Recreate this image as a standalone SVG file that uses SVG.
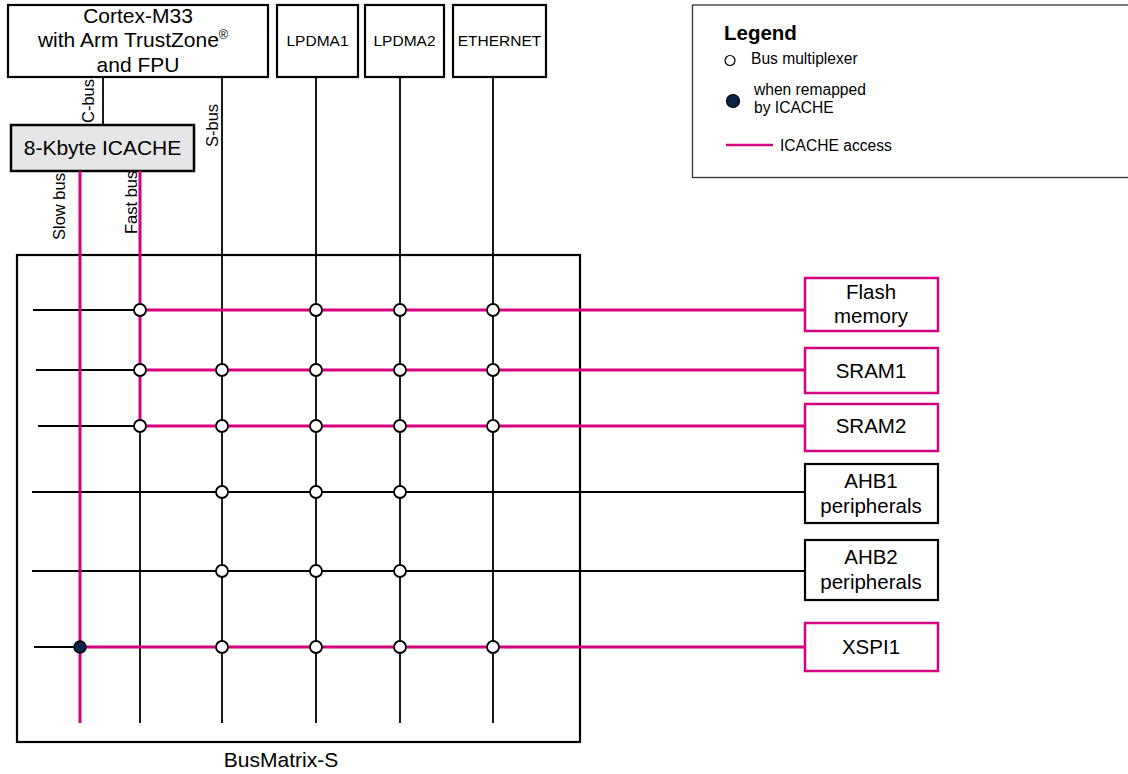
<svg xmlns="http://www.w3.org/2000/svg" width="1128" height="774" viewBox="0 0 1128 774">
  <style>
    text { font-family: "Liberation Sans", Arial, sans-serif; fill: #000; }
    .box { fill: #fff; stroke: #000; stroke-width: 2.2; }
    .mbox { fill: #fff; stroke: #d5007f; stroke-width: 2.5; }
    .cache { fill: #e6e6e6; stroke: #000; stroke-width: 2.5; }
    .blk { stroke: #000; stroke-width: 1.8; fill: none; }
    .mag { stroke: #d5007f; stroke-width: 3; fill: none; }
    .mux { fill: #fff; stroke: #000; stroke-width: 1.8; }
    .remap { fill: #0b2447; stroke: #000; stroke-width: 1.5; }
    .big { font-size: 20.5px; text-anchor: middle; }
    .cpu { font-size: 21px; text-anchor: middle; }
    .mid { font-size: 15.5px; text-anchor: middle; }
    .bus { font-size: 16.5px; }
    .leg { font-size: 15.6px; }
  </style>

  <!-- Bus matrix frame -->
  <g id="busmatrix">
    <rect x="17" y="255" width="563" height="487" fill="none" stroke="#000" stroke-width="2.2"/>
    <text class="big" x="281" y="767" style="font-size:21px">BusMatrix-S</text>
  </g>

  <!-- Masters -->
  <g id="cortex">
    <rect class="box" x="8" y="5" width="260" height="72"/>
    <text class="cpu" x="138" y="23">Cortex-M33</text>
    <text class="cpu" x="133" y="47">with Arm TrustZone<tspan font-size="12.5" dy="-8">®</tspan></text>
    <text class="cpu" x="138" y="72">and FPU</text>
  </g>
  <g id="icache">
    <rect class="cache" x="11" y="125" width="183" height="46"/>
    <text class="big" x="102.5" y="155" style="font-size:21px">8-Kbyte ICACHE</text>
  </g>
  <g id="lpdma1">
    <rect class="box" x="277" y="5" width="81" height="72"/>
    <text class="mid" x="317.5" y="46">LPDMA1</text>
  </g>
  <g id="lpdma2">
    <rect class="box" x="365" y="5" width="79" height="72"/>
    <text class="mid" x="404.5" y="46">LPDMA2</text>
  </g>
  <g id="ethernet">
    <rect class="box" x="453" y="5" width="93" height="72"/>
    <text class="mid" x="499.5" y="46">ETHERNET</text>
  </g>

  <!-- Slaves -->
  <g id="flash">
    <rect class="mbox" x="805" y="278" width="133" height="53"/>
    <text class="big" x="871" y="299">Flash</text>
    <text class="big" x="871" y="323">memory</text>
  </g>
  <g id="sram1">
    <rect class="mbox" x="805" y="348" width="133" height="45"/>
    <text class="big" x="871" y="378">SRAM1</text>
  </g>
  <g id="sram2">
    <rect class="mbox" x="805" y="404" width="133" height="47"/>
    <text class="big" x="871" y="433">SRAM2</text>
  </g>
  <g id="ahb1">
    <rect class="box" x="805" y="464" width="133" height="59"/>
    <text class="big" x="871" y="488">AHB1</text>
    <text class="big" x="871" y="513">peripherals</text>
  </g>
  <g id="ahb2">
    <rect class="box" x="805" y="540" width="133" height="60"/>
    <text class="big" x="871" y="564">AHB2</text>
    <text class="big" x="871" y="589">peripherals</text>
  </g>
  <g id="xspi1">
    <rect class="mbox" x="805" y="623" width="133" height="48"/>
    <text class="big" x="871" y="654">XSPI1</text>
  </g>

  <!-- Connectors -->
  <g id="connectors">
    <!-- black master buses -->
    <line class="blk" x1="103" y1="77" x2="103" y2="125"/>
    <line class="blk" x1="222" y1="77" x2="222" y2="723"/>
    <line class="blk" x1="316" y1="77" x2="316" y2="723"/>
    <line class="blk" x1="400" y1="77" x2="400" y2="723"/>
    <line class="blk" x1="493" y1="77" x2="493" y2="723"/>
    <line class="blk" x1="140" y1="426" x2="140" y2="723"/>

    <!-- black slave-side segments -->
    <line class="blk" x1="33" y1="310" x2="140" y2="310"/>
    <line class="blk" x1="36" y1="370" x2="140" y2="370"/>
    <line class="blk" x1="38" y1="426" x2="140" y2="426"/>
    <line class="blk" x1="32" y1="492" x2="805" y2="492"/>
    <line class="blk" x1="32" y1="571" x2="805" y2="571"/>
    <line class="blk" x1="34" y1="647" x2="80" y2="647"/>

    <!-- ICACHE access paths -->
    <line class="mag" x1="80" y1="171" x2="80" y2="723"/>
    <line class="mag" x1="140" y1="171" x2="140" y2="426"/>
    <line class="mag" x1="140" y1="310" x2="805" y2="310"/>
    <line class="mag" x1="140" y1="370" x2="805" y2="370"/>
    <line class="mag" x1="140" y1="426" x2="805" y2="426"/>
    <line class="mag" x1="80" y1="647" x2="805" y2="647"/>

    <!-- bus labels -->
    <text class="bus" transform="translate(94,123) rotate(-90)">C-bus</text>
    <text class="bus" transform="translate(218,147) rotate(-90)">S-bus</text>
    <text class="bus" transform="translate(65,240) rotate(-90)">Slow bus</text>
    <text class="bus" transform="translate(137,234) rotate(-90)">Fast bus</text>

    <!-- multiplexers -->
    <circle class="mux" cx="140" cy="310" r="6"/>
    <circle class="mux" cx="316" cy="310" r="6"/>
    <circle class="mux" cx="400" cy="310" r="6"/>
    <circle class="mux" cx="493" cy="310" r="6"/>

    <circle class="mux" cx="140" cy="370" r="6"/>
    <circle class="mux" cx="222" cy="370" r="6"/>
    <circle class="mux" cx="316" cy="370" r="6"/>
    <circle class="mux" cx="400" cy="370" r="6"/>
    <circle class="mux" cx="493" cy="370" r="6"/>

    <circle class="mux" cx="140" cy="426" r="6"/>
    <circle class="mux" cx="222" cy="426" r="6"/>
    <circle class="mux" cx="316" cy="426" r="6"/>
    <circle class="mux" cx="400" cy="426" r="6"/>
    <circle class="mux" cx="493" cy="426" r="6"/>

    <circle class="mux" cx="222" cy="492" r="6"/>
    <circle class="mux" cx="316" cy="492" r="6"/>
    <circle class="mux" cx="400" cy="492" r="6"/>

    <circle class="mux" cx="222" cy="571" r="6"/>
    <circle class="mux" cx="316" cy="571" r="6"/>
    <circle class="mux" cx="400" cy="571" r="6"/>

    <circle class="remap" cx="80" cy="647" r="6"/>
    <circle class="mux" cx="222" cy="647" r="6"/>
    <circle class="mux" cx="316" cy="647" r="6"/>
    <circle class="mux" cx="400" cy="647" r="6"/>
    <circle class="mux" cx="493" cy="647" r="6"/>
  </g>

  <!-- Legend (frame runs past the right edge) -->
  <g id="legend">
    <rect x="692.5" y="5" width="450" height="172.5" fill="#fff" stroke="#333" stroke-width="1.3"/>
    <text x="724" y="40" style="font-size:20.5px;font-weight:bold">Legend</text>
    <circle cx="730" cy="60.5" r="5" fill="#fff" stroke="#000" stroke-width="1.2"/>
    <text class="leg" x="751" y="64">Bus multiplexer</text>
    <circle cx="733" cy="101" r="6.5" fill="#0b2447" stroke="#000" stroke-width="1.2"/>
    <text class="leg" x="754" y="95">when remapped</text>
    <text class="leg" x="754" y="113">by ICACHE</text>
    <line x1="726" y1="145" x2="773" y2="145" stroke="#d5007f" stroke-width="2.5"/>
    <text class="leg" x="780" y="151">ICACHE access</text>
  </g>
</svg>
